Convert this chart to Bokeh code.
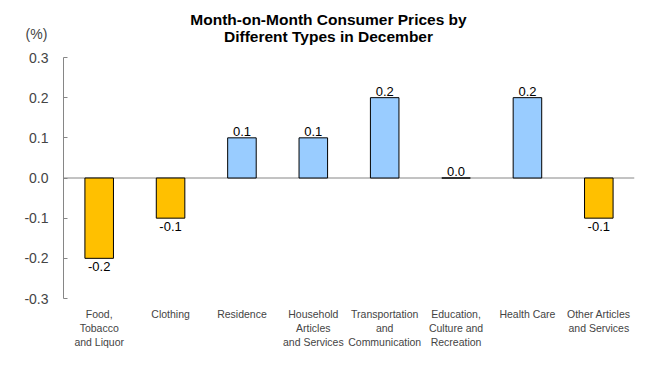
from bokeh.plotting import figure
from bokeh.models import Range1d, FixedTicker, NumeralTickFormatter, Label, ColumnDataSource, LinearAxis
from bokeh.core.properties import value
from bokeh.embed import file_html
from bokeh.resources import INLINE

categories = ["Food,\nTobacco\nand Liquor", "Clothing", "Residence", "Household\nArticles\nand Services",
              "Transportation\nand\nCommunication", "Education,\nCulture and\nRecreation", "Health Care",
              "Other Articles\nand Services"]
values = [-0.2, -0.1, 0.1, 0.1, 0.2, 0.0, 0.2, -0.1]
y_ticks = [-0.3, -0.2, -0.1, 0.0, 0.1, 0.2, 0.3]
title_lines = ["Month-on-Month Consumer Prices by", "Different Types in December"]
unit_text = "(%)"

FONT = "Liberation Sans"
W, H = 650, 379

# layout geometry (pixels): axis area spans x 63..634, y 57..298; frame extends a little below
AX_L, AX_R, AX_T, AX_B = 63, 634, 57, 298
FR_B = 306
n = len(categories)
ymin, ymax = y_ticks[0], y_ticks[-1]
ppu_y = (AX_B - AX_T) / (ymax - ymin)
ppu_x = (AX_R - AX_L) / n
x_lo = -0.5 - AX_L / ppu_x
y_lo = ymin - (FR_B - AX_B) / ppu_y
y_hi = ymin + AX_B / ppu_y

idx = list(range(n))

p = figure(width=W, height=H, output_backend="svg", toolbar_location=None, title=None,
           x_range=Range1d(x_lo, n - 0.5), y_range=Range1d(y_lo, y_hi),
           y_axis_location=None,
           min_border_left=0, min_border_right=W - AX_R, min_border_top=0, min_border_bottom=H - FR_B)
p.outline_line_color = None
p.xgrid.grid_line_color = None
p.ygrid.grid_line_color = None
p.background_fill_color = "white"
p.border_fill_color = "white"

colors = ["#99CCFF" if v >= 0 else "#FFC000" for v in values]
src = ColumnDataSource(dict(x=idx, top=values, color=colors,
                            label=["%.1f" % v for v in values],
                            base=["bottom" if v >= 0 else "top" for v in values],
                            off=[-2 if v >= 0 else 4 for v in values]))
# zero line across the category span
p.segment(x0=[-0.5], y0=[0], x1=[n - 0.5], y1=[0], line_color="#868686", line_width=1)
p.vbar(x="x", top="top", bottom=0, width=0.4, source=src, fill_color="color",
       line_color="black", line_width=1)
p.text(x="x", y="top", text="label", source=src, text_align="center", text_baseline="base",
       y_offset="off", text_font=value(FONT), text_font_size="13px", text_color="black")

# y axis placed at the left edge of the category span
ya = LinearAxis(fixed_location=-0.5, bounds=(ymin, ymax))
ya.ticker = FixedTicker(ticks=y_ticks)
ya.formatter = NumeralTickFormatter(format="0.0")
ya.axis_line_color = "#868686"
ya.major_tick_line_color = "#868686"
ya.major_tick_in = 4
ya.major_tick_out = 0
ya.minor_tick_line_color = None
ya.major_label_text_font = FONT
ya.major_label_text_font_size = "14px"
ya.major_label_standoff = 15
p.add_layout(ya, "left")

# x axis (category labels)
xa = p.xaxis[0]
xa.ticker = FixedTicker(ticks=idx)
xa.major_label_overrides = {i: c for i, c in zip(idx, categories)}
xa.axis_line_color = None
xa.major_tick_line_color = None
xa.minor_tick_line_color = None
xa.major_label_text_font = FONT
xa.major_label_text_font_size = "10.5px"
xa.major_label_text_line_height = 1.2
xa.major_label_standoff = -5
xa.major_label_orientation = "horizontal"

# title lines and unit (screen units measured from the plot frame's bottom-left)
SHIFT = 7
for line, base_y in zip(title_lines, [26, 43]):
    p.add_layout(Label(x=328, y=FR_B - base_y + SHIFT, x_units="screen", y_units="screen",
                       text=line, text_font=FONT, text_font_size="15.5px", text_font_style="bold",
                       text_align="center", text_baseline="alphabetic", text_color="black"))

p.add_layout(Label(x=36, y=FR_B - 40 + SHIFT, x_units="screen", y_units="screen",
                   text=unit_text, text_font=FONT, text_font_size="14px",
                   text_align="center", text_baseline="alphabetic"))

open("out.html", "w").write(file_html(p, INLINE))
